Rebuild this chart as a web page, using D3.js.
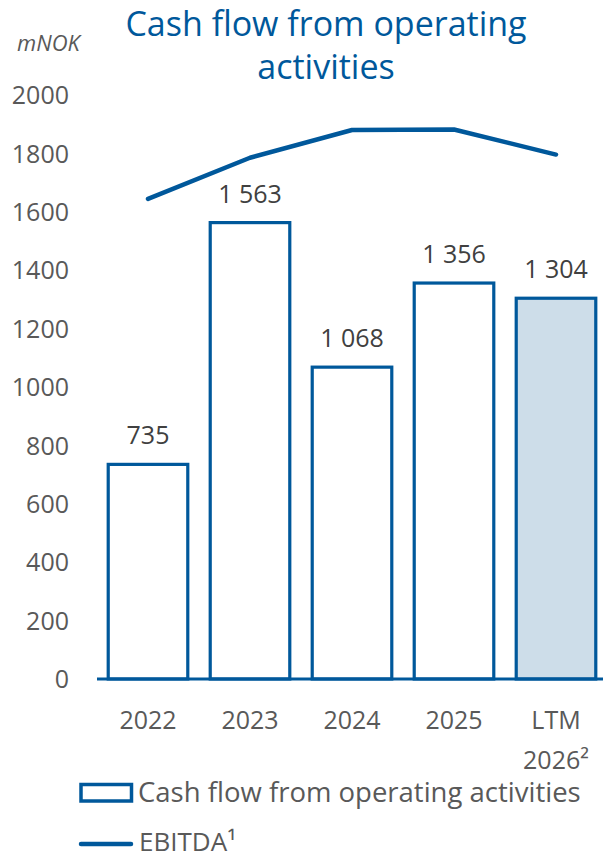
<!DOCTYPE html>
<html>
<head>
<meta charset="utf-8">
<script src="https://cdn.jsdelivr.net/npm/d3@7"></script>
<style>
  html, body { margin: 0; padding: 0; background: #ffffff; }
  svg { display: block; }
</style>
</head>
<body>
<svg id="chart" width="603" height="859"></svg>
<script>
// Categories and series
const categories = ["2022", "2023", "2024", "2025", "LTM 2026²"];
const cashFlow = [735, 1563, 1068, 1356, 1304];
const cashFlowLabels = ["735", "1 563", "1 068", "1 356", "1 304"];
const ebitda = [1644, 1785, 1880, 1882, 1796];
const yTicks = [0, 200, 400, 600, 800, 1000, 1200, 1400, 1600, 1800, 2000];

const BLUE = "#00589b";
const LIGHT = "#cddde9";
const GREY = "#595959";
const FONT = "'Open Sans', 'Noto Sans', sans-serif";

const svg = d3.select("#chart");

const x = d3.scaleBand().domain(categories).range([97, 607]).paddingInner(0.22).paddingOuter(0.11);
const y = d3.scaleLinear().domain([0, 2000]).range([679, 95]);

// Title
const title = svg.append("text")
  .attr("x", 326).attr("y", 36)
  .attr("text-anchor", "middle")
  .attr("font-family", FONT).attr("font-size", 34)
  .attr("fill", BLUE);
title.append("tspan").attr("x", 326).attr("dy", 0).text("Cash flow from operating");
title.append("tspan").attr("x", 326).attr("dy", 43).text("activities");

// Unit label
svg.append("text")
  .attr("x", 17).attr("y", 51)
  .attr("font-family", FONT).attr("font-size", 22)
  .attr("font-style", "italic")
  .attr("fill", GREY)
  .text("mNOK");

// Y axis (labels only)
const yAxis = d3.axisLeft(y).tickValues(yTicks).tickSize(0).tickPadding(0).tickFormat(d3.format("d"));
const gy = svg.append("g").attr("transform", "translate(69,0)").call(yAxis);
gy.select(".domain").remove();
gy.selectAll("text")
  .attr("font-family", FONT).attr("font-size", 25)
  .attr("fill", GREY).attr("dy", "0.35em");

// Bars
svg.append("g").selectAll("rect")
  .data(categories)
  .join("rect")
  .attr("x", d => x(d))
  .attr("width", x.bandwidth())
  .attr("y", (d, i) => y(cashFlow[i]))
  .attr("height", (d, i) => y(0) - y(cashFlow[i]))
  .attr("fill", (d, i) => i === categories.length - 1 ? LIGHT : "#ffffff")
  .attr("stroke", BLUE)
  .attr("stroke-width", 3.2);

// Value labels
svg.append("g").selectAll("text")
  .data(categories)
  .join("text")
  .attr("x", d => x(d) + x.bandwidth() / 2)
  .attr("y", (d, i) => y(cashFlow[i]) - 20)
  .attr("text-anchor", "middle")
  .attr("font-family", FONT).attr("font-size", 25)
  .attr("fill", "#404040")
  .text((d, i) => cashFlowLabels[i]);

// X axis baseline
svg.append("line")
  .attr("x1", 97).attr("x2", 603)
  .attr("y1", y(0)).attr("y2", y(0))
  .attr("stroke", BLUE).attr("stroke-width", 3.2);

// Category labels
const xAxis = d3.axisBottom(x).tickSize(0).tickPadding(0);
const gx = svg.append("g").attr("transform", `translate(0,${y(0)})`).call(xAxis);
gx.select(".domain").remove();
gx.selectAll("text").remove();
gx.selectAll(".tick").each(function(d) {
  const t = d3.select(this).append("text")
    .attr("text-anchor", "middle")
    .attr("font-family", FONT).attr("font-size", 25)
    .attr("fill", GREY)
    .attr("y", 50);
  const parts = d.split(" ");
  parts.forEach((p, i) => t.append("tspan").attr("x", 0).attr("dy", i === 0 ? 0 : 40).text(p));
});

// EBITDA line
const line = d3.line()
  .x((d, i) => x(categories[i]) + x.bandwidth() / 2)
  .y(d => y(d));
svg.append("path")
  .datum(ebitda)
  .attr("d", line)
  .attr("fill", "none")
  .attr("stroke", BLUE)
  .attr("stroke-width", 4.5)
  .attr("stroke-linejoin", "round")
  .attr("stroke-linecap", "round");

// Legend
const legend = svg.append("g");
legend.append("rect")
  .attr("x", 81).attr("y", 784.5).attr("width", 50.5).attr("height", 16.5)
  .attr("fill", "#ffffff").attr("stroke", BLUE).attr("stroke-width", 3.5);
legend.append("text")
  .attr("x", 138).attr("y", 801.5)
  .attr("font-family", FONT).attr("font-size", 27.5)
  .attr("fill", GREY)
  .text("Cash flow from operating activities");
legend.append("line")
  .attr("x1", 81).attr("x2", 131).attr("y1", 844).attr("y2", 844)
  .attr("stroke", BLUE).attr("stroke-width", 4.5).attr("stroke-linecap", "round");
legend.append("text")
  .attr("x", 139).attr("y", 851)
  .attr("font-family", FONT).attr("font-size", 26)
  .attr("fill", GREY)
  .text("EBITDA¹");
</script>
</body>
</html>
